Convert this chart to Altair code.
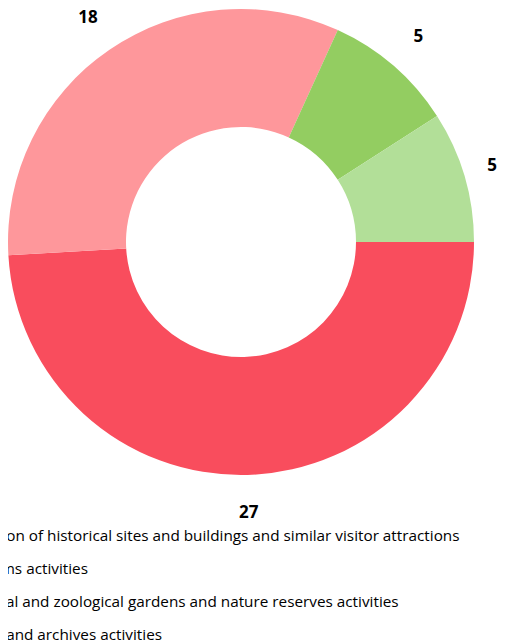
import math
import altair as alt
import pandas as pd

categories = [
    "Operation of historical sites and buildings and similar visitor attractions",
    "Museums activities",
    "Botanical and zoological gardens and nature reserves activities",
    "Library and archives activities",
]
values = [27, 18, 5, 5]
colors = ["#F94D5D", "#FE979B", "#93CD61", "#B2DF98"]

df = pd.DataFrame({"category": categories, "value": values, "idx": list(range(len(values)))})

cx, cy = 233, 234
theta = alt.Theta("value:Q", stack=True,
                  scale=alt.Scale(range=[math.pi / 2, math.pi / 2 + 2 * math.pi]))

base = alt.Chart(df).encode(
    theta=theta,
    order=alt.Order("idx:Q"),
)

arcs = base.mark_arc(innerRadius=115, outerRadius=233).encode(
    x=alt.value(cx), y=alt.value(cy),
    color=alt.Color("category:N", sort=categories,
                    scale=alt.Scale(domain=categories, range=colors),
                    legend=alt.Legend(title=None, orient="none", legendX=-75, legendY=520,
                                      labelLimit=0, labelFont="Open Sans", labelFontSize=15.3,
                                      labelColor="#000", symbolType="square", symbolSize=150,
                                      rowPadding=17, direction="vertical")),
)

text_style = dict(fontSize=17, fontWeight="bold", font="Open Sans", color="#000",
                  baseline="middle", align="center")

labels = base.mark_text(**text_style).encode(
    x=alt.value(cx), y=alt.value(cy),
    radius=alt.value(271),
    text="value:Q",
    opacity=alt.condition("datum.idx == 3", alt.value(0), alt.value(1)),
)

labels_edge = base.mark_text(dx=-9, **text_style).encode(
    x=alt.value(cx), y=alt.value(cy),
    radius=alt.value(271),
    text="value:Q",
    opacity=alt.condition("datum.idx == 3", alt.value(1), alt.value(0)),
)

chart = alt.layer(arcs, labels, labels_edge).properties(
    width=490, height=633,
    autosize=alt.AutoSizeParams(type="none"),
    padding=0,
).configure_view(stroke=None)

chart.save("out.html", embed_options={"renderer": "svg", "actions": False})
